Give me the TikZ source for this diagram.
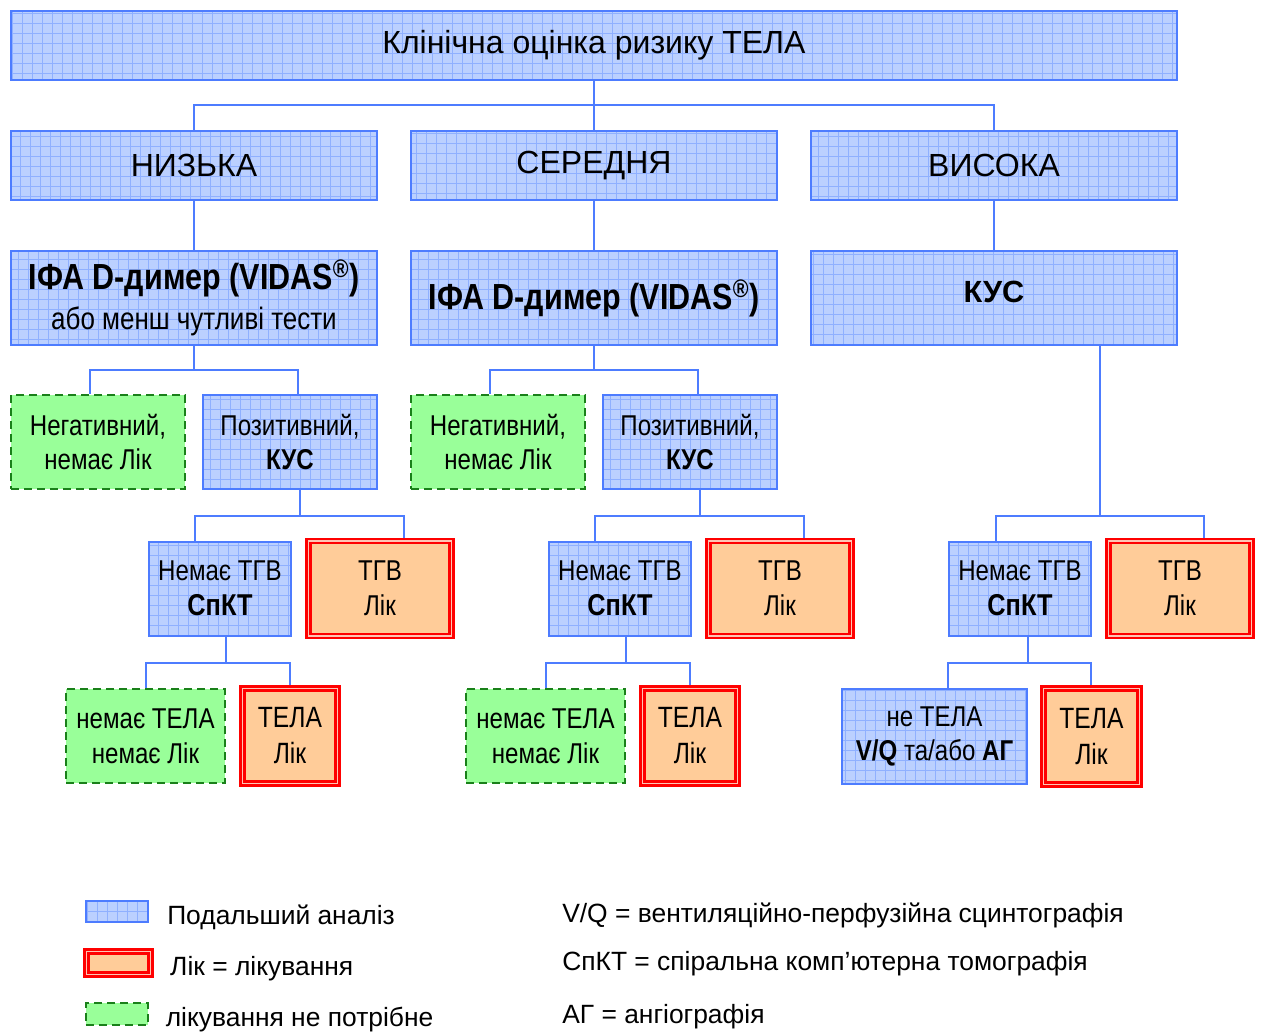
\documentclass[tikz,border=0pt]{standalone}
\usepackage{fontspec}
\setmainfont{Liberation Sans}
\newfontfamily\narrowsans[FakeStretch=0.84]{Liberation Sans}
\usetikzlibrary{positioning}
\definecolor{gridfill}{HTML}{BBD0FF}
\definecolor{gridline}{HTML}{8FB0FF}
\definecolor{gridedge}{HTML}{4D7CFF}
\definecolor{treatfill}{HTML}{FFCC99}
\definecolor{treatgap}{HTML}{FFC4B4}
\definecolor{nofill}{HTML}{99FF99}
\definecolor{noedge}{HTML}{1A801A}

\begin{document}
\begin{tikzpicture}[x=0.75pt, y=-0.75pt,
  wh/.style 2 args={minimum width=#1*0.75pt, minimum height=#2*0.75pt},
  analysis/.style={draw=gridedge, line width=1.5pt, fill=gridfill, inner sep=0pt, align=center,
    path picture={\draw[gridline, line width=0.6pt, step=7.5pt] (path picture bounding box.south west) grid (path picture bounding box.north east);}},
  treat/.style={draw=red, double=treatgap, double distance=1.4pt, line width=1.9pt, outer sep=2.6pt,
    fill=treatfill, inner sep=0pt, align=center},
  notreat/.style={draw=noedge, line width=1.5pt, dash pattern=on 6pt off 3.75pt, fill=nofill, inner sep=0pt, align=center},
  big/.style={font=\fontsize{24}{28}\selectfont},
  small/.style={font=\narrowsans\fontsize{21.5}{26}\selectfont},
  key/.style={font=\fontsize{19.8}{23}\selectfont, inner sep=0pt, anchor=west},
  conn/.style={draw=gridedge, line width=1.5pt}]
\useasboundingbox[fill=white] (0,0) rectangle (1261,1032);
% risk levels
\node[analysis, big, wh={1166}{69}] (risk) at (594,45.5) {Клінічна оцінка ризику ТЕЛА};
\node[analysis, big, wh={366}{69}] (low) at (194,165.5) {НИЗЬКА};
\node[analysis, big, wh={366}{69}, right=24pt of low] (mid) {СЕРЕДНЯ};
\node[analysis, big, wh={366}{69}, right=24pt of mid] (high) {ВИСОКА};
% first tests
\node[analysis, wh={366}{94}, below=36.75pt of low, font=\narrowsans\fontsize{23.2}{30}\selectfont] (lowtest)
  {{\fontsize{27.2}{30}\selectfont\bfseries ІФА D-димер (VIDAS\textsuperscript{®})}\\або менш чутливі тести};
\node[analysis, wh={366}{94}, below=36.75pt of mid, font=\narrowsans\fontsize{27.2}{30}\selectfont\bfseries] (midtest)
  {ІФА D-димер (VIDAS\textsuperscript{®})};
\node[analysis, wh={366}{94}, below=36.75pt of high, font=\fontsize{23}{26}\selectfont\bfseries] (highus) {\raisebox{9pt}{КУС}};
% D-dimer results
\node[notreat, small, wh={174}{94}] (lneg) at (98,442) {Негативний,\\немає Лік};
\node[analysis, small, wh={174}{94}, right=12pt of lneg] (lpos) {Позитивний,\\\textbf{КУС}};
\node[notreat, small, wh={174}{94}] (mneg) at (498,442) {Негативний,\\немає Лік};
\node[analysis, small, wh={174}{94}, right=12pt of mneg] (mpos) {Позитивний,\\\textbf{КУС}};
% ultrasound results
\node[analysis, small, wh={142}{94}] (lnodvt) at (220,588.5) {Немає ТГВ\\{\fontsize{22.6}{26}\selectfont\bfseries СпКТ}};
\node[treat, small, wh={143}{95}, right=9.75pt of lnodvt] (ldvt) {ТГВ\\Лік};
\node[analysis, small, wh={142}{94}] (mnodvt) at (620,588.5) {Немає ТГВ\\{\fontsize{22.6}{26}\selectfont\bfseries СпКТ}};
\node[treat, small, wh={143}{95}, right=9.75pt of mnodvt] (mdvt) {ТГВ\\Лік};
\node[analysis, small, wh={142}{94}] (rnodvt) at (1020,588.5) {Немає ТГВ\\{\fontsize{22.6}{26}\selectfont\bfseries СпКТ}};
\node[treat, small, wh={143}{95}, right=9.75pt of rnodvt] (rdvt) {ТГВ\\Лік};
% CT results
\node[notreat, small, wh={159}{94}] (lnope) at (145.5,736) {немає ТЕЛА\\немає Лік};
\node[treat, small, wh={95}{95}, right=9.75pt of lnope, font=\narrowsans\fontsize{22}{27}\selectfont] (lpe) {ТЕЛА\\Лік};
\node[notreat, small, wh={159}{94}] (mnope) at (545.5,736) {немає ТЕЛА\\немає Лік};
\node[treat, small, wh={95}{95}, right=9.75pt of mnope, font=\narrowsans\fontsize{22}{27}\selectfont] (mpe) {ТЕЛА\\Лік};
\node[analysis, small, wh={185}{95}] (rnope) at (934.5,736.5) {не ТЕЛА\\\textbf{V/Q} та/або \textbf{АГ}};
\node[treat, small, wh={96}{96}, right=9pt of rnope, font=\narrowsans\fontsize{22}{27}\selectfont] (rpe) {ТЕЛА\\Лік};
% connectors
\foreach \u/\v in {risk/mid, low/lowtest, mid/midtest, high/highus} \draw[conn] (\u.south) -- (\v.north);
\draw[conn] (risk.south) -- ++(0,24) -| (low.north);
\draw[conn] (risk.south) -- ++(0,24) -| (high.north);
\foreach \p/\t in {l/lowtest, m/midtest} {
  \draw[conn] (\t.south) -- ++(0,24) -| ([xshift=-6pt]\p neg.north);
  \draw[conn] (\t.south) -- ++(0,24) -| ([xshift=6pt]\p pos.north);
  \draw[conn] ([xshift=7.5pt]\p pos.south) -- ++(0,26) -| ([xshift=-18.75pt]\p nodvt.north);
  \draw[conn] ([xshift=7.5pt]\p pos.south) -- ++(0,26) -| ([xshift=18pt]\p dvt.north);
  \draw[conn] ([xshift=4.5pt]\p nodvt.south) -- ++(0,26) -| (\p nope.north);
  \draw[conn] ([xshift=4.5pt]\p nodvt.south) -- ++(0,26) -| (\p pe.north);
}
\draw[conn] ([xshift=79.5pt]highus.south) -- ++(0,170) -| ([xshift=-18pt]rnodvt.north);
\draw[conn] ([xshift=79.5pt]highus.south) -- ++(0,170) -| ([xshift=18pt]rdvt.north);
\draw[conn] ([xshift=6pt]rnodvt.south) -- ++(0,26) -| ([xshift=10pt]rnope.north);
\draw[conn] ([xshift=6pt]rnodvt.south) -- ++(0,26) -| (rpe.north);
% legend
\node[analysis, wh={62}{21}] (keyan) at (117,911.5) {};
\node[treat, wh={64}{23}] (keytr) at (118.5,963) {};
\node[notreat, wh={62}{22}] (keyno) at (116.5,1014) {};
\node[key, right=13.5pt of keyan, yshift=-4pt] (keyantext) {Подальший аналіз};
\node[key, right=12pt of keytr, yshift=-4.5pt] (keytrtext) {Лік = лікування};
\node[key, right=12.75pt of keyno, yshift=-4pt] (keynotext) {лікування не потрібне};
\node[key] (vq) at (562,915) {V/Q = вентиляційно-перфузійна сцинтографія};
\node[key] (spct) at (562,964) {СпКТ = спіральна комп’ютерна томографія};
\node[key] (ag) at (562,1017) {АГ = ангіографія};
\end{tikzpicture}
\end{document}
